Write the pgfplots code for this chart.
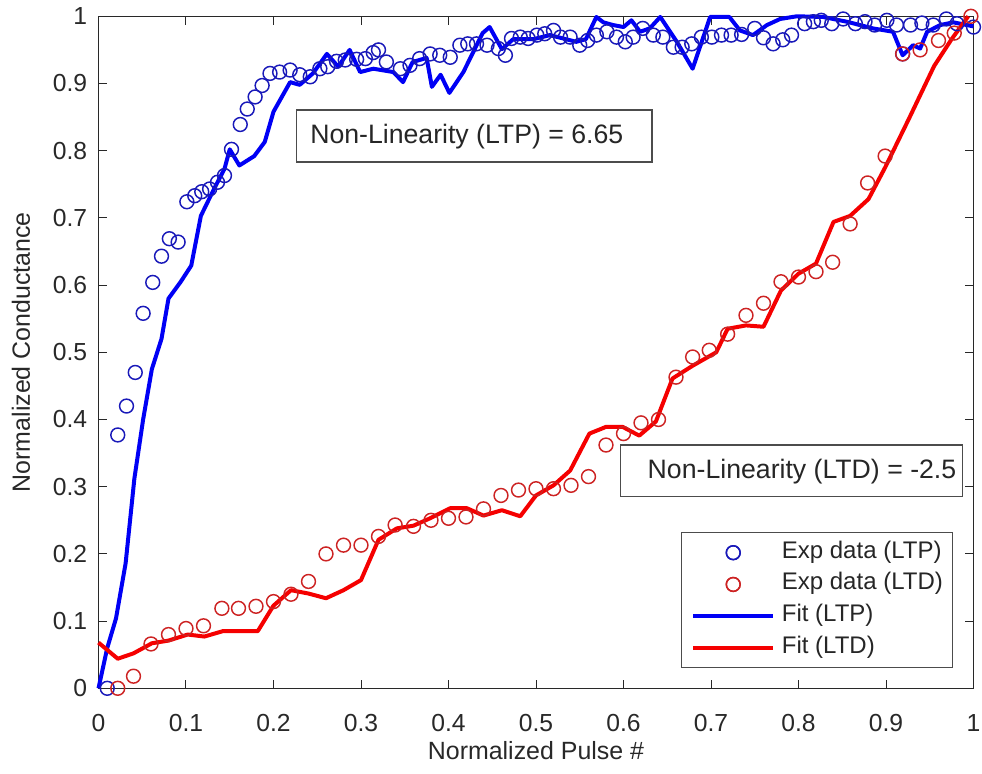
\documentclass[border=0pt]{standalone}
\usepackage{fontspec}
\setmainfont{Liberation Sans}
\usepackage{pgfplots}
\pgfplotsset{compat=1.18}
\definecolor{mblue}{RGB}{0,0,245}
\definecolor{mred}{RGB}{245,0,0}
\definecolor{cblue}{RGB}{25,25,185}
\definecolor{cred}{RGB}{205,35,35}
\definecolor{axgray}{RGB}{40,40,40}
\pgfplotsset{
  markleg/.style={legend image code/.code={\path[draw=none,fill=none] (0pt,0pt) (60pt,0pt); \path[##1,draw=none] plot coordinates {(30pt,0pt)}; \draw[##1] plot[only marks] coordinates {(30pt,0pt)};}},
  lineleg/.style={legend image code/.code={\draw[##1] (0pt,0pt) -- (60pt,0pt);}},
}
\begin{document}
\begin{tikzpicture}
\begin{axis}[
  scale only axis,
  width=656.25pt, height=504pt,
  xmin=0, xmax=1, ymin=0, ymax=1,
  xtick={0,0.1,...,1.01}, ytick={0,0.1,...,1.01},
  tick pos=both, tick align=inside,
  major tick length=6.5pt,
  axis line style={axgray, line width=0.75pt},
  tick style={axgray, line width=0.75pt},
  /pgf/number format/assume math mode=true,
  ticklabel style={font=\fontsize{18.5}{22}\selectfont, text=axgray},
  xticklabel shift=16pt,
  yticklabel shift=5pt,
  xlabel={Normalized Pulse \#},
  ylabel={Normalized Conductance},
  xlabel style={font=\fontsize{18.7}{22}\selectfont, text=axgray, at={(axis description cs:0.5,-0.1057)}, anchor=base},
  ylabel style={font=\fontsize{18.7}{22}\selectfont, text=axgray, at={(axis description cs:-0.0783,0.5)}, anchor=base, rotate=0},
  clip=false,
  legend cell align=left,
  legend style={at={(axis description cs:0.9762,0.0298)}, anchor=south east,
    draw=black!70, line width=0.75pt, fill=white,
    font=\fontsize{18}{21}\selectfont, text=black!85,
    inner xsep=7pt, inner ysep=3pt, column sep=5pt, row sep=0pt,
    nodes={inner xsep=0pt, inner ysep=3pt, text height=13pt, text depth=4.8pt}},
]
% Exp data (LTP)
\addplot[only marks, mark=o, mark size=5.2pt, cblue, line width=1.1pt, markleg] coordinates {
(0.010,0.000) (0.022,0.377) (0.032,0.420) (0.042,0.470) (0.051,0.558) (0.062,0.604)
(0.072,0.643) (0.081,0.669) (0.091,0.664) (0.101,0.724) (0.110,0.733) (0.118,0.739)
(0.127,0.743) (0.136,0.753) (0.144,0.763) (0.152,0.802) (0.162,0.839) (0.170,0.862)
(0.179,0.880) (0.187,0.897) (0.196,0.915) (0.207,0.917) (0.219,0.920) (0.230,0.913)
(0.242,0.910) (0.253,0.922) (0.262,0.925) (0.272,0.933) (0.282,0.935) (0.295,0.936)
(0.305,0.937) (0.314,0.946) (0.320,0.950) (0.329,0.932) (0.345,0.922) (0.356,0.927)
(0.367,0.937) (0.379,0.944) (0.390,0.942) (0.402,0.939) (0.413,0.957) (0.422,0.959)
(0.432,0.959) (0.444,0.957) (0.457,0.952) (0.465,0.942) (0.472,0.967) (0.482,0.969)
(0.491,0.967) (0.501,0.972) (0.510,0.974) (0.520,0.979) (0.528,0.969) (0.539,0.969)
(0.550,0.957) (0.559,0.964) (0.569,0.972) (0.581,0.977) (0.592,0.969) (0.602,0.962)
(0.611,0.969) (0.622,0.982) (0.634,0.972) (0.645,0.969) (0.657,0.954) (0.667,0.954)
(0.678,0.959) (0.689,0.969) (0.701,0.969) (0.712,0.972) (0.723,0.972) (0.735,0.973)
(0.750,0.982) (0.760,0.968) (0.771,0.959) (0.782,0.965) (0.792,0.972) (0.807,0.989)
(0.817,0.992) (0.826,0.994) (0.838,0.989) (0.851,0.996) (0.865,0.989) (0.876,0.992)
(0.887,0.987) (0.901,0.994) (0.912,0.987) (0.919,0.944) (0.928,0.987) (0.941,0.990)
(0.954,0.987) (0.969,0.996) (0.981,0.989) (1.000,0.984)
};
\addlegendentry{Exp data (LTP)}
% Exp data (LTD)
\addplot[only marks, mark=o, mark size=5.2pt, cred, line width=1.1pt, markleg] coordinates {
(0.022,0.000) (0.040,0.018) (0.060,0.066) (0.080,0.080) (0.100,0.089) (0.120,0.093)
(0.141,0.119) (0.160,0.119) (0.180,0.122) (0.200,0.129) (0.220,0.140) (0.240,0.159)
(0.260,0.200) (0.280,0.213) (0.300,0.213) (0.320,0.226) (0.339,0.243) (0.360,0.241)
(0.380,0.250) (0.400,0.253) (0.420,0.255) (0.440,0.267) (0.460,0.287) (0.480,0.295)
(0.500,0.297) (0.520,0.297) (0.540,0.302) (0.560,0.315) (0.580,0.362) (0.600,0.379)
(0.620,0.395) (0.640,0.400) (0.660,0.463) (0.679,0.493) (0.698,0.503) (0.719,0.527)
(0.740,0.555) (0.760,0.573) (0.780,0.605) (0.800,0.612) (0.820,0.620) (0.839,0.634)
(0.859,0.691) (0.879,0.752) (0.899,0.792) (0.919,0.944) (0.939,0.950) (0.960,0.964)
(0.978,0.975) (0.997,1.000)
};
\addlegendentry{Exp data (LTD)}
% Fit (LTP)
\addplot[mblue, line width=3pt, line join=round, no marks, lineleg] coordinates {
(0,0) (0.010,0.060) (0.020,0.104) (0.031,0.186) (0.041,0.312) (0.051,0.400)
(0.061,0.475) (0.072,0.520) (0.080,0.580) (0.094,0.605) (0.106,0.629) (0.117,0.703)
(0.132,0.743) (0.144,0.773) (0.150,0.802) (0.161,0.778) (0.178,0.792) (0.190,0.813)
(0.200,0.858) (0.219,0.902) (0.230,0.898) (0.245,0.915) (0.261,0.944) (0.274,0.925)
(0.287,0.950) (0.299,0.917) (0.314,0.922) (0.337,0.917) (0.348,0.902) (0.359,0.932)
(0.375,0.938) (0.381,0.895) (0.391,0.913) (0.401,0.886) (0.417,0.917) (0.439,0.975)
(0.447,0.984) (0.461,0.951) (0.474,0.966) (0.497,0.966) (0.516,0.972) (0.546,0.962)
(0.557,0.966) (0.569,0.999) (0.577,0.991) (0.588,0.987) (0.600,0.984) (0.609,0.994)
(0.619,0.977) (0.630,0.982) (0.642,0.999) (0.661,0.962) (0.679,0.922) (0.699,0.999)
(0.721,0.999) (0.733,0.979) (0.748,0.972) (0.764,0.987) (0.779,0.996) (0.798,1.000)
(0.828,0.999) (0.855,0.992) (0.885,0.982) (0.908,0.977) (0.919,0.942) (0.931,0.957)
(0.939,0.952) (0.947,0.977) (0.962,0.987) (0.977,0.991) (1.000,0.985)
};
\addlegendentry{Fit (LTP)}
% Fit (LTD)
\addplot[mred, line width=3pt, line join=round, no marks, lineleg] coordinates {
(0,0.068) (0.022,0.044) (0.040,0.052) (0.061,0.067) (0.080,0.071) (0.102,0.080)
(0.121,0.077) (0.142,0.085) (0.182,0.085) (0.200,0.123) (0.220,0.146) (0.240,0.141)
(0.260,0.134) (0.280,0.146) (0.300,0.161) (0.320,0.221) (0.341,0.238) (0.360,0.242)
(0.379,0.253) (0.402,0.268) (0.421,0.268) (0.440,0.257) (0.461,0.265) (0.482,0.256)
(0.500,0.287) (0.520,0.302) (0.539,0.324) (0.561,0.379) (0.580,0.389) (0.599,0.389)
(0.618,0.376) (0.637,0.397) (0.656,0.461) (0.679,0.480) (0.706,0.500) (0.719,0.535)
(0.740,0.540) (0.760,0.538) (0.780,0.592) (0.800,0.617) (0.820,0.632) (0.840,0.694)
(0.859,0.703) (0.880,0.728) (0.899,0.775) (0.926,0.847) (0.955,0.926) (0.975,0.966)
(0.994,1.000)
};
\addlegendentry{Fit (LTD)}
% annotation boxes
\draw[black!70, line width=1pt, fill=white] (axis cs:0.2263,0.7832) rectangle (axis cs:0.6326,0.8606);
\node[anchor=base west, inner sep=0pt, font=\fontsize{20}{24}\selectfont, text=black!85] at (axis cs:0.2417,0.8107) {Non-Linearity (LTP) = 6.65};
\draw[black!70, line width=1pt, fill=white] (axis cs:0.5968,0.2851) rectangle (axis cs:0.9876,0.3620);
\node[anchor=base west, inner sep=0pt, font=\fontsize{20}{24}\selectfont, text=black!85] at (axis cs:0.6274,0.3125) {Non-Linearity (LTD) = -2.5};
\end{axis}
\pgfresetboundingbox
\path[use as bounding box] (-73.875pt,-64.275pt) rectangle (662.625pt,516.225pt);
\end{tikzpicture}
\end{document}
